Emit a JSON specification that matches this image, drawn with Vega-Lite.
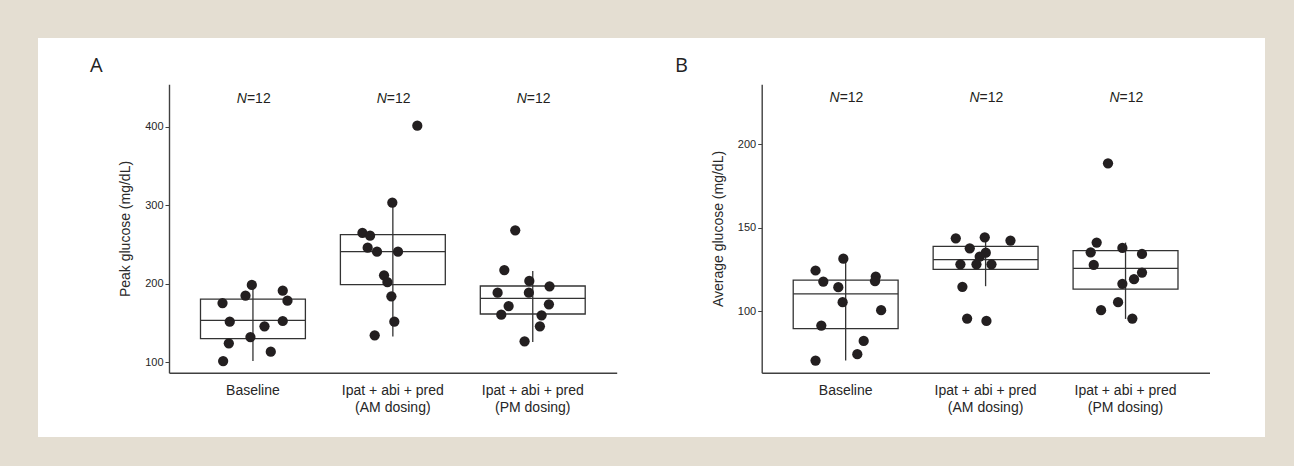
{
  "$schema": "https://vega.github.io/schema/vega-lite/v6.json",
  "background": "#e4ded2",
  "padding": {"left": 38, "top": 38, "right": 29, "bottom": 29},
  "spacing": 0,
  "bounds": "flush",
  "config": {
    "font": "Liberation Sans",
    "view": {"fill": "white", "stroke": null},
    "axis": {"grid": false, "domainColor": "#404040", "domainWidth": 1.4, "tickColor": "#404040", "labelColor": "#262626", "titleColor": "#2a2a2a", "labelFont": "Liberation Sans", "titleFont": "Liberation Sans", "titleFontWeight": "normal"}
  },
  "datasets": {
    "ptsA": [
      {"g": "Baseline", "v": 101.7, "j": -0.284}, {"g": "Baseline", "v": 124.2, "j": -0.23}, {"g": "Baseline", "v": 175.6, "j": -0.29}, {"g": "Baseline", "v": 151.8, "j": -0.221}, {"g": "Baseline", "v": 185, "j": -0.071}, {"g": "Baseline", "v": 198.6, "j": -0.011}, {"g": "Baseline", "v": 132.3, "j": -0.024}, {"g": "Baseline", "v": 145.9, "j": 0.11}, {"g": "Baseline", "v": 113.6, "j": 0.17}, {"g": "Baseline", "v": 191.4, "j": 0.284}, {"g": "Baseline", "v": 178.6, "j": 0.329}, {"g": "Baseline", "v": 152.7, "j": 0.284},
      {"g": "Ipat + abi + pred (AM dosing)", "v": 401.7, "j": 0.233}, {"g": "Ipat + abi + pred (AM dosing)", "v": 303.5, "j": -0.005}, {"g": "Ipat + abi + pred (AM dosing)", "v": 264.9, "j": -0.29}, {"g": "Ipat + abi + pred (AM dosing)", "v": 261.5, "j": -0.217}, {"g": "Ipat + abi + pred (AM dosing)", "v": 246.2, "j": -0.24}, {"g": "Ipat + abi + pred (AM dosing)", "v": 241.1, "j": -0.151}, {"g": "Ipat + abi + pred (AM dosing)", "v": 241.1, "j": 0.049}, {"g": "Ipat + abi + pred (AM dosing)", "v": 210.9, "j": -0.084}, {"g": "Ipat + abi + pred (AM dosing)", "v": 202.4, "j": -0.052}, {"g": "Ipat + abi + pred (AM dosing)", "v": 184.1, "j": -0.014}, {"g": "Ipat + abi + pred (AM dosing)", "v": 151.8, "j": 0.014}, {"g": "Ipat + abi + pred (AM dosing)", "v": 134.4, "j": -0.173},
      {"g": "Ipat + abi + pred (PM dosing)", "v": 268.3, "j": -0.167}, {"g": "Ipat + abi + pred (PM dosing)", "v": 217.7, "j": -0.271}, {"g": "Ipat + abi + pred (PM dosing)", "v": 203.7, "j": -0.033}, {"g": "Ipat + abi + pred (PM dosing)", "v": 196.9, "j": 0.16}, {"g": "Ipat + abi + pred (PM dosing)", "v": 188.8, "j": -0.335}, {"g": "Ipat + abi + pred (PM dosing)", "v": 188.8, "j": -0.037}, {"g": "Ipat + abi + pred (PM dosing)", "v": 171.8, "j": -0.23}, {"g": "Ipat + abi + pred (PM dosing)", "v": 173.9, "j": 0.154}, {"g": "Ipat + abi + pred (PM dosing)", "v": 160.8, "j": -0.3}, {"g": "Ipat + abi + pred (PM dosing)", "v": 159.9, "j": 0.084}, {"g": "Ipat + abi + pred (PM dosing)", "v": 145.9, "j": 0.068}, {"g": "Ipat + abi + pred (PM dosing)", "v": 126.8, "j": -0.078}
    ],
    "boxA": [
      {"g": "Baseline", "lo": 101.7, "q1": 130.2, "med": 153.5, "q3": 180.7, "hi": 198.6},
      {"g": "Ipat + abi + pred (AM dosing)", "lo": 133, "q1": 199, "med": 241.1, "q3": 262.7, "hi": 303.5},
      {"g": "Ipat + abi + pred (PM dosing)", "lo": 126, "q1": 161.6, "med": 181.6, "q3": 197.3, "hi": 216.4}
    ],
    "ptsB": [
      {"g": "Baseline", "v": 70.5, "j": -0.287}, {"g": "Baseline", "v": 124.4, "j": -0.287}, {"g": "Baseline", "v": 117.8, "j": -0.213}, {"g": "Baseline", "v": 114.4, "j": -0.07}, {"g": "Baseline", "v": 131.5, "j": -0.022}, {"g": "Baseline", "v": 105.4, "j": -0.029}, {"g": "Baseline", "v": 91.4, "j": -0.232}, {"g": "Baseline", "v": 120.8, "j": 0.287}, {"g": "Baseline", "v": 118, "j": 0.28}, {"g": "Baseline", "v": 100.6, "j": 0.338}, {"g": "Baseline", "v": 82.2, "j": 0.172}, {"g": "Baseline", "v": 74.3, "j": 0.111},
      {"g": "Ipat + abi + pred (AM dosing)", "v": 143.7, "j": -0.284}, {"g": "Ipat + abi + pred (AM dosing)", "v": 144.3, "j": -0.008}, {"g": "Ipat + abi + pred (AM dosing)", "v": 142.3, "j": 0.237}, {"g": "Ipat + abi + pred (AM dosing)", "v": 137.7, "j": -0.151}, {"g": "Ipat + abi + pred (AM dosing)", "v": 135.1, "j": 0.002}, {"g": "Ipat + abi + pred (AM dosing)", "v": 132.7, "j": -0.056}, {"g": "Ipat + abi + pred (AM dosing)", "v": 128.1, "j": -0.24}, {"g": "Ipat + abi + pred (AM dosing)", "v": 128.1, "j": -0.087}, {"g": "Ipat + abi + pred (AM dosing)", "v": 128.1, "j": 0.056}, {"g": "Ipat + abi + pred (AM dosing)", "v": 114.6, "j": -0.221}, {"g": "Ipat + abi + pred (AM dosing)", "v": 95.6, "j": -0.176}, {"g": "Ipat + abi + pred (AM dosing)", "v": 94.2, "j": 0.008},
      {"g": "Ipat + abi + pred (PM dosing)", "v": 188.6, "j": -0.167}, {"g": "Ipat + abi + pred (PM dosing)", "v": 141.1, "j": -0.275}, {"g": "Ipat + abi + pred (PM dosing)", "v": 135.3, "j": -0.332}, {"g": "Ipat + abi + pred (PM dosing)", "v": 137.9, "j": -0.03}, {"g": "Ipat + abi + pred (PM dosing)", "v": 134.3, "j": 0.157}, {"g": "Ipat + abi + pred (PM dosing)", "v": 127.7, "j": -0.303}, {"g": "Ipat + abi + pred (PM dosing)", "v": 123.2, "j": 0.157}, {"g": "Ipat + abi + pred (PM dosing)", "v": 119.2, "j": 0.081}, {"g": "Ipat + abi + pred (PM dosing)", "v": 116.4, "j": -0.03}, {"g": "Ipat + abi + pred (PM dosing)", "v": 105.4, "j": -0.071}, {"g": "Ipat + abi + pred (PM dosing)", "v": 100.6, "j": -0.233}, {"g": "Ipat + abi + pred (PM dosing)", "v": 95.6, "j": 0.065}
    ],
    "boxB": [
      {"g": "Baseline", "lo": 70.5, "q1": 89.6, "med": 110.4, "q3": 118.6, "hi": 131.5},
      {"g": "Ipat + abi + pred (AM dosing)", "lo": 115, "q1": 125.1, "med": 130.9, "q3": 138.9, "hi": 144.3},
      {"g": "Ipat + abi + pred (PM dosing)", "lo": 95.4, "q1": 113.2, "med": 125.7, "q3": 136.3, "hi": 141.1}
    ],
    "nlab": [
      {"g": "Baseline", "n": 12},
      {"g": "Ipat + abi + pred (AM dosing)", "n": 12},
      {"g": "Ipat + abi + pred (PM dosing)", "n": 12}
    ]
  },
  "hconcat": [
    {
      "width": 622,
      "height": 399,
      "title": {"text": "A", "anchor": "start", "frame": "group", "orient": "top", "font": "Open Sans", "fontSize": 20, "fontWeight": "normal", "color": "#222222", "offset": -38, "dx": 52},
      "layer": [
        {
          "data": {"name": "boxA"},
          "mark": {"type": "bar", "width": 104.9, "fillOpacity": 0, "stroke": "#333333", "strokeWidth": 1.3},
          "encoding": {
            "x": {"field": "g", "type": "nominal", "sort": null, "title": null,
              "scale": {"range": [131, 578.7], "paddingInner": 0.25, "paddingOuter": 0.225},
              "axis": {"orient": "bottom", "offset": -64.3, "ticks": false, "tickSize": 0, "labelPadding": 11, "labelFontSize": 14, "labelAngle": 0, "labelLimit": 0, "labelLineHeight": 17, "labelOverlap": false, "labelExpr": "split(replace(datum.label, ' (', '|('), '|')"}},
            "y": {"field": "q1", "type": "quantitative", "title": "Peak glucose (mg/dL)",
              "scale": {"domain": [86.8, 454.4], "range": [334.7, 46.3], "nice": false, "zero": false},
              "axis": {"orient": "left", "offset": -131, "values": [100, 200, 300, 400], "tickSize": 4, "labelPadding": 2, "labelFontSize": 11, "titleFontSize": 14, "titlePadding": 12}},
            "y2": {"field": "q3"}
          }
        },
        {
          "data": {"name": "boxA"},
          "mark": {"type": "bar", "width": 104.9, "fillOpacity": 0, "stroke": "#333333", "strokeWidth": 1.3},
          "encoding": {
            "x": {"field": "g", "type": "nominal", "sort": null, "title": null},
            "y": {"field": "med", "type": "quantitative", "title": "Peak glucose (mg/dL)"},
            "y2": {"field": "med"}
          }
        },
        {
          "data": {"name": "boxA"},
          "mark": {"type": "rule", "stroke": "#333333", "strokeWidth": 1.3},
          "encoding": {
            "x": {"field": "g", "type": "nominal", "sort": null, "title": null},
            "y": {"field": "lo", "type": "quantitative", "title": "Peak glucose (mg/dL)"},
            "y2": {"field": "hi"}
          }
        },
        {
          "data": {"name": "ptsA"},
          "mark": {"type": "circle", "size": 105, "fill": "#231f20", "opacity": 1},
          "encoding": {
            "x": {"field": "g", "type": "nominal", "sort": null, "title": null},
            "xOffset": {"field": "j", "type": "quantitative", "scale": {"domain": [-0.5, 0.5]}},
            "y": {"field": "v", "type": "quantitative", "title": "Peak glucose (mg/dL)"}
          }
        },
        {
          "data": {"name": "nlab"},
          "mark": {"type": "text", "fontSize": 14, "fontStyle": "italic", "align": "right", "baseline": "middle", "dx": -6, "color": "#231f20"},
          "encoding": {
            "x": {"field": "g", "type": "nominal", "sort": null, "title": null},
            "y": {"datum": 436.3},
            "text": {"value": "N"}
          }
        },
        {
          "data": {"name": "nlab"},
          "transform": [{"calculate": "'=' + datum.n", "as": "lab"}],
          "mark": {"type": "text", "fontSize": 14, "align": "left", "baseline": "middle", "dx": -6, "color": "#231f20"},
          "encoding": {
            "x": {"field": "g", "type": "nominal", "sort": null, "title": null},
            "y": {"datum": 436.3},
            "text": {"field": "lab"}
          }
        }
      ]
    },
    {
      "width": 605,
      "height": 399,
      "title": {"text": "B", "anchor": "start", "frame": "group", "orient": "top", "font": "Open Sans", "fontSize": 20, "fontWeight": "normal", "color": "#222222", "offset": -38, "dx": 15},
      "layer": [
        {
          "data": {"name": "boxB"},
          "mark": {"type": "bar", "width": 104.9, "fillOpacity": 0, "stroke": "#333333", "strokeWidth": 1.3},
          "encoding": {
            "x": {"field": "g", "type": "nominal", "sort": null, "title": null,
              "scale": {"range": [101.7, 549.5], "paddingInner": 0.25, "paddingOuter": 0.225},
              "axis": {"orient": "bottom", "offset": -64.3, "ticks": false, "tickSize": 0, "labelPadding": 11, "labelFontSize": 14, "labelAngle": 0, "labelLimit": 0, "labelLineHeight": 17, "labelOverlap": false, "labelExpr": "split(replace(datum.label, ' (', '|('), '|')"}},
            "y": {"field": "q1", "type": "quantitative", "title": "Average glucose (mg/dL)",
              "scale": {"domain": [63.2, 235.9], "range": [334.7, 46.3], "nice": false, "zero": false},
              "axis": {"orient": "left", "offset": -101.7, "values": [100, 150, 200], "tickSize": 4, "labelPadding": 2, "labelFontSize": 11, "titleFontSize": 14, "titlePadding": 12}},
            "y2": {"field": "q3"}
          }
        },
        {
          "data": {"name": "boxB"},
          "mark": {"type": "bar", "width": 104.9, "fillOpacity": 0, "stroke": "#333333", "strokeWidth": 1.3},
          "encoding": {
            "x": {"field": "g", "type": "nominal", "sort": null, "title": null},
            "y": {"field": "med", "type": "quantitative", "title": "Average glucose (mg/dL)"},
            "y2": {"field": "med"}
          }
        },
        {
          "data": {"name": "boxB"},
          "mark": {"type": "rule", "stroke": "#333333", "strokeWidth": 1.3},
          "encoding": {
            "x": {"field": "g", "type": "nominal", "sort": null, "title": null},
            "y": {"field": "lo", "type": "quantitative", "title": "Average glucose (mg/dL)"},
            "y2": {"field": "hi"}
          }
        },
        {
          "data": {"name": "ptsB"},
          "mark": {"type": "circle", "size": 105, "fill": "#231f20", "opacity": 1},
          "encoding": {
            "x": {"field": "g", "type": "nominal", "sort": null, "title": null},
            "xOffset": {"field": "j", "type": "quantitative", "scale": {"domain": [-0.5, 0.5]}},
            "y": {"field": "v", "type": "quantitative", "title": "Average glucose (mg/dL)"}
          }
        },
        {
          "data": {"name": "nlab"},
          "mark": {"type": "text", "fontSize": 14, "fontStyle": "italic", "align": "right", "baseline": "middle", "dx": -6, "color": "#231f20"},
          "encoding": {
            "x": {"field": "g", "type": "nominal", "sort": null, "title": null},
            "y": {"datum": 227.5},
            "text": {"value": "N"}
          }
        },
        {
          "data": {"name": "nlab"},
          "transform": [{"calculate": "'=' + datum.n", "as": "lab"}],
          "mark": {"type": "text", "fontSize": 14, "align": "left", "baseline": "middle", "dx": -6, "color": "#231f20"},
          "encoding": {
            "x": {"field": "g", "type": "nominal", "sort": null, "title": null},
            "y": {"datum": 227.5},
            "text": {"field": "lab"}
          }
        }
      ]
    }
  ]
}
